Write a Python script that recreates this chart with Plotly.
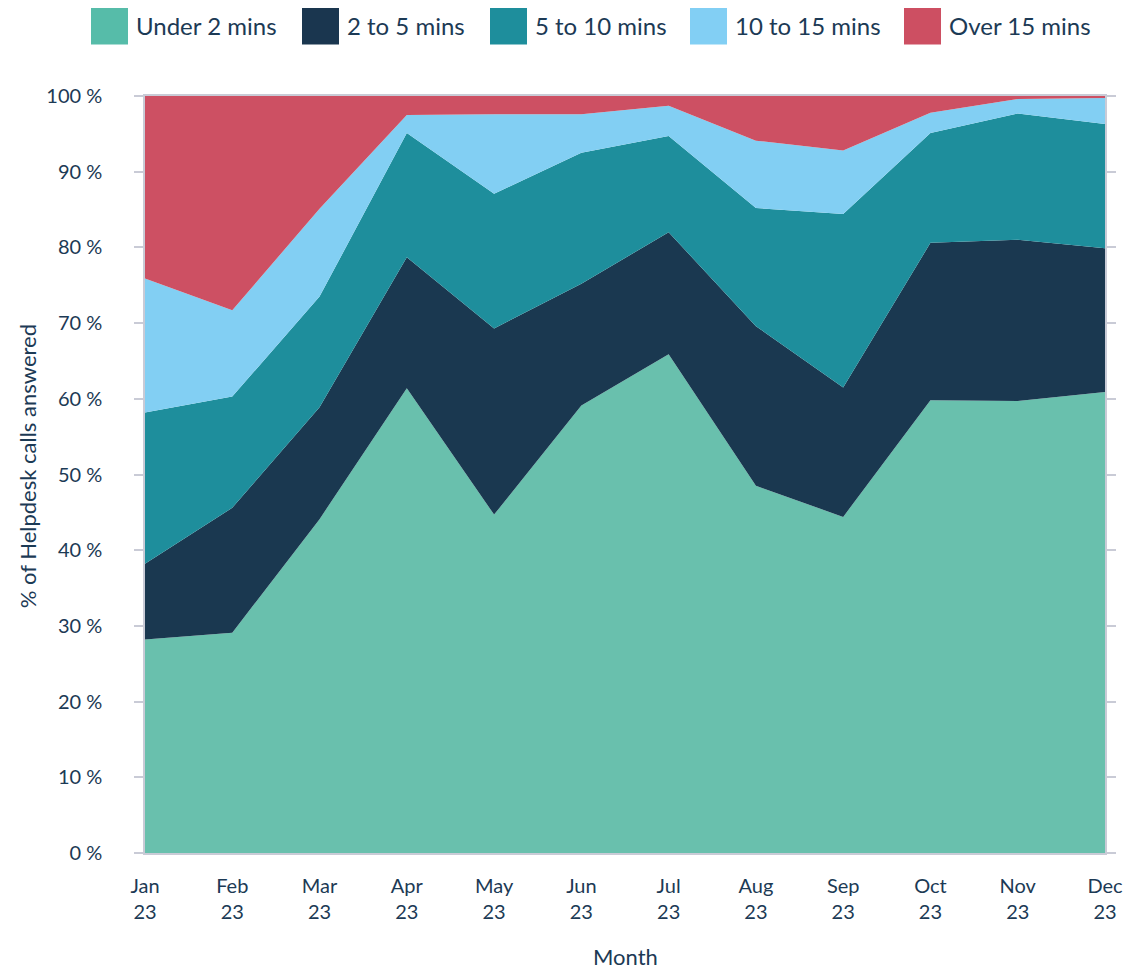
import plotly.graph_objects as go

months = ["Jan<br>23", "Feb<br>23", "Mar<br>23", "Apr<br>23", "May<br>23", "Jun<br>23",
          "Jul<br>23", "Aug<br>23", "Sep<br>23", "Oct<br>23", "Nov<br>23", "Dec<br>23"]
series_names = ["Under 2 mins", "2 to 5 mins", "5 to 10 mins", "10 to 15 mins", "Over 15 mins"]
under_2 = [28.2, 29.1, 44.1, 61.4, 44.7, 59.1, 65.9, 48.5, 44.4, 59.8, 59.7, 60.9]
two_to_5 = [10.0, 16.5, 14.8, 17.3, 24.6, 16.1, 16.1, 21.1, 17.1, 20.8, 21.3, 19.0]
five_to_10 = [20.0, 14.7, 14.6, 16.4, 17.8, 17.3, 12.7, 15.6, 22.9, 14.5, 16.7, 16.4]
ten_to_15 = [17.7, 11.4, 11.6, 2.4, 10.5, 5.1, 4.0, 8.9, 8.4, 2.7, 1.9, 3.45]
over_15 = [24.1, 28.3, 14.9, 2.5, 2.4, 2.4, 1.3, 5.9, 7.2, 2.2, 0.4, 0.25]
y_ticks = [0, 10, 20, 30, 40, 50, 60, 70, 80, 90, 100]
y_tick_labels = [f"{v} %" for v in y_ticks]

fill_colors = ["#69c0ad", "#1a3850", "#1e8e9c", "#82cff3", "#cd5063"]
legend_colors = ["#56bca9", "#1a364f", "#1e8e9c", "#82cff4", "#cd4f62"]
text_color = "#1c3a55"
axis_color = "#c9cbd6"
font_family = "Lato, 'Open Sans', sans-serif"

# page offset of the plotly div (body margin)
OX, OY = 8, 8
# target page-pixel geometry of plot area
PX0, PX1, PY0, PY1 = 145, 1105, 95.5, 853
W, H = 1126, 963
L = PX0 - OX
R = W - (PX1 - OX)
T = PY0 - OY
B = H - (PY1 - OY)

fig = go.Figure()
x = list(range(len(months)))
for name, vals, col in zip(series_names, [under_2, two_to_5, five_to_10, ten_to_15, over_15], fill_colors):
    fig.add_trace(go.Scatter(
        x=x, y=vals, name=name, mode="lines", stackgroup="one",
        line=dict(width=0, color=col), fillcolor=col, showlegend=False,
    ))

pw = PX1 - PX0
ph = PY1 - PY0
def px_x(p):
    return (p - PX0) / pw
def px_y(p):
    return (PY1 - p) / ph

swatch_lefts = [91, 302, 490, 690, 904]
shapes = []
annotations = []
for name, col, sx in zip(series_names, legend_colors, swatch_lefts):
    shapes.append(dict(type="rect", xref="paper", yref="paper",
                       x0=px_x(sx), x1=px_x(sx + 37), y0=px_y(44), y1=px_y(7),
                       fillcolor=col, line=dict(width=0), layer="above"))
    annotations.append(dict(xref="paper", yref="paper", x=px_x(sx + 43), y=px_y(25),
                            xanchor="left", yanchor="middle", text=name, showarrow=False,
                            font=dict(size=24, color=text_color, family=font_family)))

annotations.append(dict(xref="paper", yref="paper", x=px_x(625), y=px_y(957),
                        xanchor="center", yanchor="middle", text="Month", showarrow=False,
                        font=dict(size=22, color=text_color, family=font_family)))
annotations.append(dict(xref="paper", yref="paper", x=px_x(27), y=px_y(466),
                        xanchor="center", yanchor="middle", text="% of Helpdesk calls answered",
                        textangle=-90, showarrow=False,
                        font=dict(size=22, color=text_color, family=font_family)))

fig.update_layout(
    width=W, height=H,
    margin=dict(l=L, r=R, t=T, b=B, autoexpand=False),
    paper_bgcolor="white", plot_bgcolor="white",
    font=dict(family=font_family, color=text_color, size=20),
    shapes=shapes, annotations=annotations,
    xaxis=dict(
        range=[0, len(months) - 1], tickvals=x, ticktext=months,
        showgrid=False, zeroline=False, showline=True, linecolor=axis_color, linewidth=1.5,
        mirror=True, ticks="", tickfont=dict(size=20, color=text_color), ticklabelstandoff=14,
    ),
    yaxis=dict(
        range=[0, 100], tickvals=y_ticks, ticktext=y_tick_labels,
        showgrid=False, zeroline=False, showline=True, linecolor=axis_color, linewidth=1.5,
        mirror="ticks", ticks="outside", ticklen=9, tickcolor=axis_color, tickwidth=1.5,
        tickfont=dict(size=20, color=text_color), ticklabelstandoff=28,
    ),
)

fig.write_html("out.html")
